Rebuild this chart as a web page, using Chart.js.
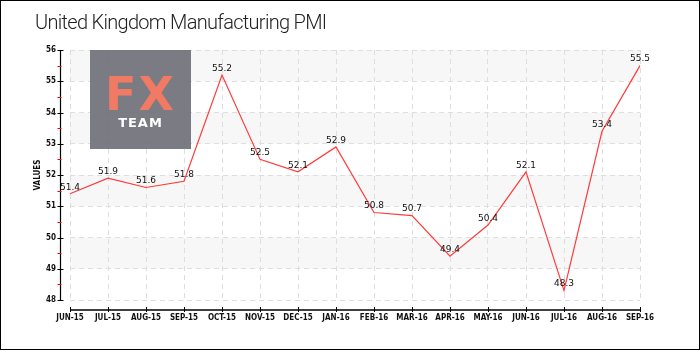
<!DOCTYPE html>
<html>
<head>
<meta charset="utf-8">
<script src="https://cdn.jsdelivr.net/npm/chart.js@4.4.1/dist/chart.umd.min.js"></script>
<style>
  html, body { margin: 0; padding: 0; background: #fff; }
  #wrap { position: relative; width: 700px; height: 350px; box-sizing: border-box; border: 1px solid #000; overflow: hidden; }
  #c { position: absolute; left: -1px; top: -1px; }
  #title { position: absolute; left: 34px; top: 9px; font-family: "Roboto", "DejaVu Sans", sans-serif; font-weight: 300; font-size: 20px; color: #222; letter-spacing: -0.7px; }
  #logo { position: absolute; left: 89px; top: 49px; width: 101px; height: 99px; background: rgba(112,112,122,0.92); text-align: center; font-family: "DejaVu Sans", sans-serif; }
  #logo .fx { position: absolute; left: 0; right: 0; top: 21px; font-size: 46px; line-height: 46px; font-weight: bold; color: #f07a63; letter-spacing: 2px; }
  #logo .team { position: absolute; left: 0; right: 0; top: 66px; font-size: 13px; line-height: 13px; font-weight: bold; color: #fff; letter-spacing: 1px; }
</style>
</head>
<body>
<div id="wrap">
  <canvas id="c" width="700" height="350"></canvas>
  <div id="title">United Kingdom Manufacturing PMI</div>
  <div id="logo"><div class="fx">FX</div><div class="team">TEAM</div></div>
</div>
<script>
const categories = ["JUN-15","JUL-15","AUG-15","SEP-15","OCT-15","NOV-15","DEC-15","JAN-16","FEB-16","MAR-16","APR-16","MAY-16","JUN-16","JUL-16","AUG-16","SEP-16"];
const pmiValues = [51.4, 51.9, 51.6, 51.8, 55.2, 52.5, 52.1, 52.9, 50.8, 50.7, 49.4, 50.4, 52.1, 48.3, 53.4, 55.5];
const yMin = 48;
const yMax = 56;
const yAxisTitle = "VALUES";

const FONT = '"DejaVu Sans Condensed", "DejaVu Sans", sans-serif';

const decor = {
  id: 'decor',
  beforeDraw(chart) {
    const {ctx, chartArea: a, scales: {y}} = chart;
    ctx.save();
    ctx.fillStyle = '#f7f7f7';
    for (let v = yMin + 1; v < yMax; v += 2) {
      const top = y.getPixelForValue(v + 1), bot = y.getPixelForValue(v);
      ctx.fillRect(a.left, top, a.right - a.left, bot - top);
    }
    ctx.restore();
  },
  afterDraw(chart) {
    const {ctx, chartArea: a, scales: {x, y}} = chart;
    ctx.save();
    const ax = a.left - 9.5;
    ctx.strokeStyle = '#000';
    ctx.lineWidth = 1.2;
    ctx.beginPath();
    ctx.moveTo(ax, y.getPixelForValue(yMax));
    ctx.lineTo(ax, y.getPixelForValue(yMin));
    ctx.stroke();
    for (let v = yMin; v <= yMax + 0.001; v += 0.5) {
      const py = Math.round(y.getPixelForValue(v)) + 0.5;
      const major = Math.abs(v - Math.round(v)) < 0.01;
      ctx.strokeStyle = major ? '#000' : '#ff0000';
      ctx.lineWidth = 1;
      ctx.beginPath();
      ctx.moveTo(ax - 3, py);
      ctx.lineTo(ax + (major ? 3 : 1), py);
      ctx.stroke();
    }
    const ay = a.bottom + 10;
    ctx.strokeStyle = '#000';
    ctx.lineWidth = 1.5;
    ctx.beginPath();
    ctx.moveTo(x.getPixelForValue(0), ay);
    ctx.lineTo(x.getPixelForValue(categories.length - 1), ay);
    ctx.stroke();
    ctx.lineWidth = 1;
    for (let i = 0; i < categories.length; i++) {
      const px = Math.round(x.getPixelForValue(i)) + 0.5;
      ctx.beginPath();
      ctx.moveTo(px, ay - 3);
      ctx.lineTo(px, ay + 2);
      ctx.stroke();
    }
    ctx.fillStyle = '#111';
    ctx.font = '9px "DejaVu Sans", sans-serif';
    ctx.textAlign = 'center';
    ctx.textBaseline = 'bottom';
    const meta = chart.getDatasetMeta(0);
    meta.data.forEach((pt, i) => {
      ctx.fillText(String(pmiValues[i]), pt.x, pt.y - 2);
    });
    ctx.restore();
  }
};

new Chart(document.getElementById('c'), {
  type: 'line',
  data: {
    labels: categories,
    datasets: [{
      data: pmiValues,
      borderColor: '#ff3a3a',
      borderWidth: 1.2,
      pointRadius: 0,
      tension: 0,
      fill: false
    }]
  },
  options: {
    responsive: false,
    animation: false,
    layout: { padding: { left: 0, right: 60, top: 50, bottom: 0 } },
    plugins: { legend: { display: false }, tooltip: { enabled: false } },
    scales: {
      x: {
        offset: false,
        afterFit(s) { s.height = 50; },
        grid: { color: '#dedede', drawTicks: false },
        border: { display: false, dash: [5, 4] },
        ticks: { padding: 13, color: '#111', font: { family: FONT, size: 8, weight: 'bold' }, maxRotation: 0, autoSkip: false }
      },
      y: {
        min: yMin,
        max: yMax,
        afterFit(s) { s.width = 70; },
        grid: { color: '#dedede', drawTicks: false },
        border: { display: false, dash: [5, 4] },
        ticks: { stepSize: 1, padding: 14, color: '#111', font: { family: FONT, size: 8, weight: 'bold' } },
        title: { display: true, text: yAxisTitle, color: '#111', font: { family: FONT, size: 8, weight: 'bold' }, padding: { top: 33, bottom: 0 } }
      }
    }
  },
  plugins: [decor]
});
</script>
</body>
</html>
